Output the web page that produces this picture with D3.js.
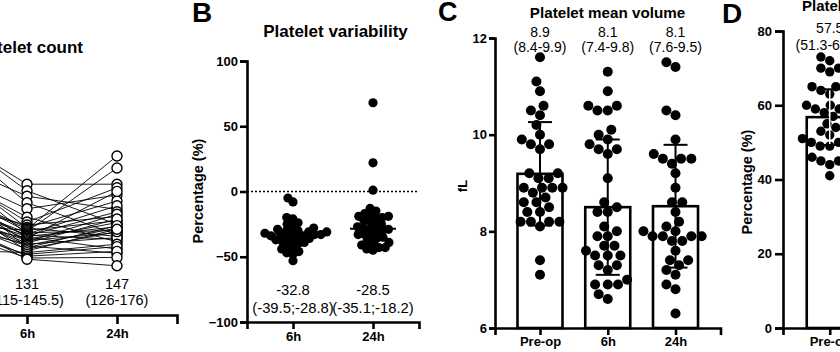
<!DOCTYPE html>
<html><head><meta charset="utf-8">
<script src="https://cdn.jsdelivr.net/npm/d3@7"></script>
<style>
body{margin:0;background:#fff;}
svg{display:block;font-family:"Liberation Sans",Arial,Helvetica,sans-serif;}
</style></head><body>
<svg id="chart" width="840" height="352"></svg>
<script>
// ---------------- DATA ----------------
// Panel A: platelet count (x10^9/L), paired per patient
const countCats = ["Pre-op", "6h", "24h"];
const countPre = [311,318,264,312,246,243,250,188,212,259,213,153,217,193,255,196,200,179,213,162,194,177,214,179,155,184,167,238,167,206,109,149,166,148,172];
const count6h  = [218,207,198,187,177,163,155,150,146,145,143,141,139,137,135,133,132,131,130,128,126,124,122,120,118,116,115,112,110,107,104,101,98,95,93];
const count24h = [218,151,176,134,200,122,212,164,190,131,265,157,245,141,182,126,172,147,110,206,154,137,168,160,129,145,103,149,139,143,118,114,106,96,82];
const countLabelCats = ["6h", "24h"];
const countMedianText = ["131", "147"];
const countIqrText = ["(115-145.5)", "(126-176)"];

// Panel B: platelet variability (%)
const varCats = ["6h", "24h"];
const var6h  = [-5,-8,-20,-21,-24,-25,-27,-28,-29,-30,-30,-31,-31,-32,-32,-33,-33,-33,-34,-34,-35,-35,-36,-37,-38,-38,-39,-40,-41,-43,-44,-46,-47,-48,-53];
const var24h = [68,22,1,-13,-15,-17,-18,-19,-19,-20,-21,-22,-23,-25,-26,-27,-28,-29,-29,-30,-31,-33,-33,-34,-35,-36,-38,-39,-40,-41,-43,-43,-44,-45];
const varMedians = [-32.8, -28.5];
const varMedianText = ["-32.8", "-28.5"];
const varIqrText = ["(-39.5;-28.8)", "(-35.1;-18.2)"];
const varTicks = [-100, -50, 0, 50, 100];

// Panel C: platelet mean volume (fL)
const mpvCats = ["Pre-op", "6h", "24h"];
const mpvPre = [11.6,11.1,10.9,10.6,10.5,10.4,10.2,10.0,9.9,9.8,9.8,9.7,9.2,9.2,9.1,9.1,8.9,8.9,8.9,8.9,8.8,8.7,8.6,8.6,8.5,8.4,8.4,8.2,8.2,8.2,8.2,8.1,7.4,7.1];
const mpv6h  = [11.3,10.9,10.6,10.6,10.5,10.5,10.1,10.0,9.9,9.8,9.7,9.7,9.6,9.1,8.6,8.5,8.4,8.4,8.1,8.0,7.9,7.9,7.7,7.7,7.6,7.5,7.5,7.5,7.3,7.3,7.2,7.0,6.9,6.9,6.9,6.7,6.6];
const mpv24h = [11.5,11.4,10.5,10.4,9.9,9.6,9.5,9.5,9.4,9.5,9.2,8.9,8.6,8.6,8.4,8.2,8.1,8.0,8.0,7.9,7.9,7.9,7.9,7.8,7.8,7.6,7.4,7.4,7.3,7.2,7.1,6.9,6.8,6.3];
const mpvMeans = [9.19, 8.5, 8.52];
const mpvSD = [1.07, 1.4, 1.27];
const mpvMedianText = ["8.9", "8.1", "8.1"];
const mpvIqrText = ["(8.4-9.9)", "(7.4-9.8)", "(7.6-9.5)"];
const mpvTicks = [6, 8, 10, 12];

// Panel D: percentage (only pre-op visible)
const dCats = ["Pre-op", "6h", "24h"];
const dPre = [73,72,70,70,69,65,65,65,64,63,60,60,60,59,59,58,57,55,54,54,53,52,51,51,50,50,49,49,46,45,45,44,41];
const dMeans = [56.8];
const dSD = [7.5];
const dMedianText = ["57.5"];
const dIqrText = ["(51.3-64.8)"];
const dTicks = [0, 20, 40, 60, 80];

// ---------------- HELPERS ----------------
const svg = d3.select("#chart");
const intFmt = d3.format("d");

// greedy beeswarm: returns horizontal offsets; d = minimum centre distance
function swarm(values, y, d) {
  const idx = values.map((v, i) => i).sort((a, b) => values[a] - values[b]);
  const placed = [];
  const xs = new Array(values.length);
  for (const i of idx) {
    const yi = y(values[i]);
    const blocks = [];
    for (const p of placed) {
      const dy = Math.abs(p.y - yi);
      if (dy < d) { const w = Math.sqrt(d * d - dy * dy); blocks.push([p.x - w, p.x + w]); }
    }
    const cands = [0];
    blocks.forEach(b => cands.push(b[0], b[1]));
    cands.sort((a, b) => Math.abs(a) - Math.abs(b) || a - b);
    let xi = 0;
    for (const c of cands) {
      if (blocks.every(b => c <= b[0] + 1e-6 || c >= b[1] - 1e-6)) { xi = c; break; }
    }
    xs[i] = xi;
    placed.push({ x: xi, y: yi });
  }
  return xs;
}

function styleAxis(g, size) {
  g.select(".domain").attr("stroke", "#000").attr("stroke-width", 2.6);
  g.selectAll(".tick line").attr("stroke", "#000").attr("stroke-width", 2.6);
  g.selectAll(".tick text").attr("fill", "#000").attr("font-weight", "bold").attr("font-size", size || 13);
  g.attr("font-family", null);
}

function twoLineLabels(g, xs, cats, l1, l2, y1, y2, size) {
  cats.forEach((c, i) => {
    g.append("text").attr("x", xs(c)).attr("y", y1).attr("text-anchor", "middle")
      .attr("font-size", size).text(l1[i]);
    g.append("text").attr("x", xs(c)).attr("y", y2).attr("text-anchor", "middle")
      .attr("font-size", size).text(l2[i]);
  });
}

function panelLetter(x, y, t, size) {
  svg.append("text").attr("x", x).attr("y", y).attr("font-size", size).attr("font-weight", "bold").text(t);
}

// ---------------- PANEL A ----------------
{
  const g = svg.append("g");
  const x = d3.scalePoint().domain(countCats).range([-123, 177]).padding(0.667);
  const y = d3.scaleLinear().domain([0, 400]).range([315, 75]);
  const line = d3.line().x(d => x(d[0])).y(d => y(d[1]));
  countPre.forEach((p, i) => {
    g.append("path").attr("d", line([["Pre-op", p], ["6h", count6h[i]], ["24h", count24h[i]]]))
      .attr("fill", "none").attr("stroke", "#000").attr("stroke-width", 0.9);
  });
  const series = [["Pre-op", countPre], ["6h", count6h], ["24h", count24h]];
  series.forEach(([c, vals]) => {
    g.selectAll(null).data(vals).join("circle")
      .attr("cx", x(c)).attr("cy", d => y(d)).attr("r", 5)
      .attr("fill", "#fff").attr("stroke", "#000").attr("stroke-width", 1.4);
  });
  const ax = g.append("g").attr("transform", "translate(0,315)")
    .call(d3.axisBottom(x).tickSizeOuter(0).tickSize(9).tickPadding(5));
  styleAxis(ax, 13);
  twoLineLabels(g, x, countLabelCats, countMedianText, countIqrText, 289, 305, 14.5);
  g.append("text").attr("x", 83).attr("y", 53).attr("text-anchor", "end")
    .attr("font-size", 17).attr("font-weight", "bold").text("Platelet count");
}

// ---------------- PANEL B ----------------
{
  const g = svg.append("g");
  const x = d3.scalePoint().domain(varCats).range([247, 419]).padding(0.575);
  const y = d3.scaleLinear().domain([-100, 100]).range([322, 61]);
  g.append("line").attr("x1", 247).attr("x2", 419).attr("y1", y(0)).attr("y2", y(0))
    .attr("stroke", "#000").attr("stroke-width", 1.5).attr("stroke-dasharray", "2,2");
  [["6h", var6h], ["24h", var24h]].forEach(([c, vals]) => {
    const xs = swarm(vals, y, 6.4);
    g.selectAll(null).data(vals).join("circle")
      .attr("cx", (d, i) => x(c) + xs[i]).attr("cy", d => y(d)).attr("r", 4.6).attr("fill", "#000");
  });
  varCats.forEach((c, i) => {
    g.append("line").attr("x1", x(c) - 23).attr("x2", x(c) + 23)
      .attr("y1", y(varMedians[i])).attr("y2", y(varMedians[i]))
      .attr("stroke", "#000").attr("stroke-width", 2);
  });
  const ay = g.append("g").attr("transform", "translate(247,0)")
    .call(d3.axisLeft(y).tickValues(varTicks).tickFormat(intFmt).tickSizeOuter(0).tickSize(7).tickPadding(2));
  styleAxis(ay, 13);
  const ax = g.append("g").attr("transform", "translate(0,322)")
    .call(d3.axisBottom(x).tickSizeOuter(0).tickSize(7).tickPadding(3));
  styleAxis(ax, 13);
  twoLineLabels(g, x, varCats, varMedianText, varIqrText, 295, 313, 14.8);
  g.append("text").attr("x", 335.5).attr("y", 37).attr("text-anchor", "middle")
    .attr("font-size", 17).attr("font-weight", "bold").text("Platelet variability");
  g.append("text").attr("transform", "translate(203,191) rotate(-90)").attr("text-anchor", "middle")
    .attr("font-size", 14.5).attr("font-weight", "bold").text("Percentage (%)");
  panelLetter(192, 22, "B", 28);
}

// ---------------- PANEL C ----------------
{
  const g = svg.append("g");
  const x = d3.scalePoint().domain(mpvCats).range([495, 720.5]).padding(0.664);
  const y = d3.scaleLinear().domain([6, 12]).range([328, 38]);
  const bw = 45;
  mpvCats.forEach((c, i) => {
    g.append("rect").attr("x", x(c) - bw / 2).attr("y", y(mpvMeans[i]))
      .attr("width", bw).attr("height", y(6) - y(mpvMeans[i]))
      .attr("fill", "#fff").attr("stroke", "#000").attr("stroke-width", 2.6);
  });
  [["Pre-op", mpvPre], ["6h", mpv6h], ["24h", mpv24h]].forEach(([c, vals]) => {
    const xs = swarm(vals, y, 10.3);
    g.selectAll(null).data(vals).join("circle")
      .attr("cx", (d, i) => x(c) + xs[i]).attr("cy", d => y(d)).attr("r", 5).attr("fill", "#000");
  });
  mpvCats.forEach((c, i) => {
    const hi = y(mpvMeans[i] + mpvSD[i]), lo = y(mpvMeans[i] - mpvSD[i]);
    g.append("line").attr("x1", x(c)).attr("x2", x(c)).attr("y1", hi).attr("y2", lo)
      .attr("stroke", "#000").attr("stroke-width", 2);
    [hi, lo].forEach(v => g.append("line").attr("x1", x(c) - 12).attr("x2", x(c) + 12)
      .attr("y1", v).attr("y2", v).attr("stroke", "#000").attr("stroke-width", 2));
  });
  const ay = g.append("g").attr("transform", "translate(495,0)")
    .call(d3.axisLeft(y).tickValues(mpvTicks).tickFormat(intFmt).tickSizeOuter(0).tickSize(6).tickPadding(2));
  styleAxis(ay, 13);
  const ax = g.append("g").attr("transform", "translate(0,328)")
    .call(d3.axisBottom(x).tickSizeOuter(0).tickSize(7).tickPadding(2));
  styleAxis(ax, 13);
  twoLineLabels(g, x, mpvCats, mpvMedianText, mpvIqrText, 37, 52, 14);
  g.append("text").attr("x", 607.5).attr("y", 18).attr("text-anchor", "middle")
    .attr("font-size", 15.2).attr("font-weight", "bold").text("Platelet mean volume");
  g.append("text").attr("transform", "translate(467,186) rotate(-90)").attr("text-anchor", "middle")
    .attr("font-size", 13).attr("font-weight", "bold").text("fL");
  panelLetter(438, 21, "C", 27);
}

// ---------------- PANEL D ----------------
{
  const g = svg.append("g");
  const x = d3.scalePoint().domain(dCats).range([783, 1016]).padding(0.67);
  const y = d3.scaleLinear().domain([0, 80]).range([328, 31]);
  const bw = 46;
  const c = "Pre-op";
  g.append("rect").attr("x", x(c) - bw / 2).attr("y", y(dMeans[0]))
    .attr("width", bw).attr("height", y(0) - y(dMeans[0]))
    .attr("fill", "#fff").attr("stroke", "#000").attr("stroke-width", 2.6);
  const xs = swarm(dPre, y, 9.6);
  g.selectAll(null).data(dPre).join("circle")
    .attr("cx", (d, i) => x(c) + xs[i]).attr("cy", d => y(d)).attr("r", 4.7).attr("fill", "#000");
  const hi = y(dMeans[0] + dSD[0]), lo = y(dMeans[0] - dSD[0]);
  g.append("line").attr("x1", x(c)).attr("x2", x(c)).attr("y1", hi).attr("y2", lo)
    .attr("stroke", "#fff").attr("stroke-width", 1.5);
  [hi, lo].forEach(v => g.append("line").attr("x1", x(c) - 12).attr("x2", x(c) + 12)
    .attr("y1", v).attr("y2", v).attr("stroke", "#000").attr("stroke-width", 2));
  const ay = g.append("g").attr("transform", "translate(783,0)")
    .call(d3.axisLeft(y).tickValues(dTicks).tickFormat(intFmt).tickSizeOuter(0).tickSize(8).tickPadding(3));
  styleAxis(ay, 13);
  const ax = g.append("g").attr("transform", "translate(0,328)")
    .call(d3.axisBottom(x).tickSizeOuter(0).tickSize(7).tickPadding(2));
  styleAxis(ax, 13);
  twoLineLabels(g, x, ["Pre-op"], dMedianText, dIqrText, 33, 50, 14);
  g.append("text").attr("x", 802).attr("y", 11)
    .attr("font-size", 15).attr("font-weight", "bold").text("Platelet aggregation");
  g.append("text").attr("transform", "translate(752,182) rotate(-90)").attr("text-anchor", "middle")
    .attr("font-size", 14.5).attr("font-weight", "bold").text("Percentage (%)");
  panelLetter(722, 23, "D", 28);
}
</script>
</body></html>
